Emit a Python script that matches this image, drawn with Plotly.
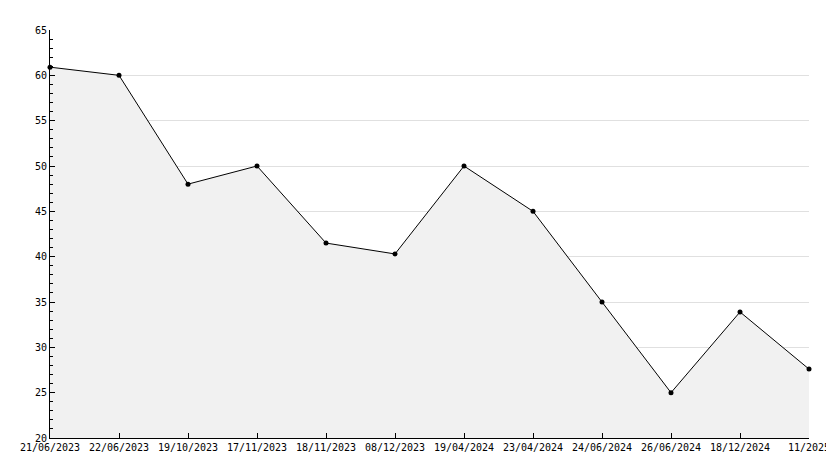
import plotly.graph_objects as go

dates = ["21/06/2023","22/06/2023","19/10/2023","17/11/2023","18/11/2023","08/12/2023",
         "19/04/2024","23/04/2024","24/06/2024","26/06/2024","18/12/2024","11/2025"]
values = [60.9, 60.0, 48.0, 50.0, 41.5, 40.3, 50.0, 45.0, 35.0, 25.0, 33.9, 27.6]
yticks = [20, 25, 30, 35, 40, 45, 50, 55, 60, 65]

idx = list(range(len(dates)))
fig = go.Figure(go.Scatter(
    x=idx, y=values, mode="lines+markers", fill="tozeroy",
    fillcolor="#f1f1f1", line=dict(color="black", width=1),
    marker=dict(symbol="circle", size=5, color="black"),
    cliponaxis=False,
))
fig.update_layout(
    width=834, height=468, margin=dict(l=42, r=25, t=22, b=38),
    paper_bgcolor="white", plot_bgcolor="white", showlegend=False,
    font=dict(family="DejaVu Sans Mono", size=10, color="black"),
)
fig.update_xaxes(range=[0, len(dates)-1], tickmode="array", tickvals=idx, ticktext=dates,
                 ticks="inside", ticklen=5, tickcolor="black", showline=True, linecolor="black",
                 showgrid=False, zeroline=False)
fig.update_yaxes(range=[20, 65], tickmode="array", tickvals=yticks, ticks="inside", ticklen=5,
                 tickcolor="black", showline=True, linecolor="black", showgrid=True,
                 gridcolor="#e0e0e0", zeroline=False,
                 minor=dict(dtick=1, ticks="inside", ticklen=3, tickcolor="black", showgrid=False))
fig.write_html("out.html")
